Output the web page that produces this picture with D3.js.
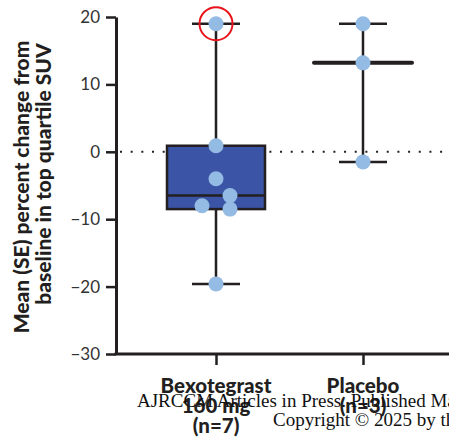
<!DOCTYPE html>
<html>
<head>
<meta charset="utf-8">
<script src="https://cdn.jsdelivr.net/npm/d3@7"></script>
<style>
  html, body { margin: 0; padding: 0; background: #fff; }
  svg { display: block; }
</style>
</head>
<body>
<svg id="chart" width="449" height="440"></svg>
<script>
// Groups and the individual percent changes in top-quartile SUV
const categories = ["Bexotegrast", "Placebo"];
const categoryLines = [["Bexotegrast", "160 mg", "(n=7)"], ["Placebo", "(n=3)"]];
const bexotegrastValues = [19, 0.9, -4, -6.5, -8, -8.5, -19.6];
const placeboValues = [19, 13.2, -1.5];
// Box summaries: [low whisker, q1, median, q3, high whisker]
const bexotegrastBox = [-19.6, -8.5, -6.5, 0.9, 19];
const placeboBox = [-1.5, 13.2, 13.2, 13.2, 19];
const yTicks = [-30, -20, -10, 0, 10, 20];
const yTitle = ["Mean (SE) percent change from", "baseline in top quartile SUV"];
const footer = ["AJRCCM Articles in Press. Published March 2025 as", "Copyright \u00A9 2025 by the American Thoracic Society"];

const ink = "#231f20";
const svg = d3.select("#chart");

const y = d3.scaleLinear().domain([-30, 20]).range([354, 17]);
const x = d3.scalePoint().domain(categories).range([216, 363]);
const axisX = 116;

// zero reference line (dotted)
svg.append("line")
  .attr("x1", axisX + 4).attr("x2", 449)
  .attr("y1", y(0)).attr("y2", y(0))
  .attr("stroke", ink).attr("stroke-width", 2)
  .attr("stroke-dasharray", "2,8.67");

// y axis
const yAxis = svg.append("g")
  .attr("transform", `translate(${axisX},0)`)
  .call(d3.axisLeft(y).tickValues(yTicks).tickSize(10).tickSizeOuter(0).tickPadding(6));
yAxis.select(".domain").attr("stroke", ink).attr("stroke-width", 3);
yAxis.selectAll(".tick line").attr("stroke", ink).attr("stroke-width", 2.5);
yAxis.selectAll(".tick text")
  .attr("fill", "#333").style("font-family", "Lato, 'Open Sans', sans-serif")
  .style("font-size", "17px");

// x axis baseline spanning the plot
svg.append("line")
  .attr("x1", axisX - 1.5).attr("x2", 449)
  .attr("y1", y(-30)).attr("y2", y(-30))
  .attr("stroke", ink).attr("stroke-width", 3);

const xAxis = svg.append("g")
  .attr("transform", `translate(0,${y(-30)})`)
  .call(d3.axisBottom(x).tickSize(11).tickSizeOuter(0).tickFormat(""));
xAxis.select(".domain").remove();
xAxis.selectAll(".tick line").attr("stroke", ink).attr("stroke-width", 2.5);

// category labels
categories.forEach((c, i) => {
  const t = svg.append("text")
    .attr("x", x(c)).attr("y", 393)
    .attr("text-anchor", "middle")
    .attr("fill", ink)
    .style("font-family", "Lato, sans-serif")
    .style("font-weight", "900")
    .style("font-size", "20.5px");
  categoryLines[i].forEach((line, j) => {
    t.append("tspan").attr("x", x(c)).attr("y", 393 + j * 20).text(line);
  });
});

// y axis title, one centred line per row
const titleCentres = [187, 174];
yTitle.forEach((line, j) => {
  svg.append("text")
    .attr("transform", `translate(${29 + j * 22},${titleCentres[j]}) rotate(-90)`)
    .attr("text-anchor", "middle")
    .attr("fill", ink)
    .style("font-family", "Lato, sans-serif")
    .style("font-weight", "900")
    .style("font-size", "21px")
    .text(line);
});

// whiskers and boxes
const capHalf = 24, boxHalf = 49;
function drawGroup(cat, box, values, offsets, hasBox) {
  const cx = x(cat);
  const [lo, q1, med, q3, hi] = box;
  const g = svg.append("g");
  g.append("line").attr("x1", cx).attr("x2", cx).attr("y1", y(hi)).attr("y2", y(lo))
    .attr("stroke", ink).attr("stroke-width", 2.5);
  [lo, hi].forEach(v => {
    g.append("line").attr("x1", cx - capHalf).attr("x2", cx + capHalf)
      .attr("y1", y(v)).attr("y2", y(v))
      .attr("stroke", ink).attr("stroke-width", 2.5);
  });
  if (hasBox) {
    g.append("rect")
      .attr("x", cx - boxHalf).attr("width", boxHalf * 2)
      .attr("y", y(q3)).attr("height", y(q1) - y(q3))
      .attr("fill", "#3b54a5").attr("stroke", ink).attr("stroke-width", 2.5);
    g.append("line").attr("x1", cx - boxHalf).attr("x2", cx + boxHalf)
      .attr("y1", y(med)).attr("y2", y(med))
      .attr("stroke", ink).attr("stroke-width", 2.5);
  } else {
    g.append("line").attr("x1", cx - boxHalf).attr("x2", cx + boxHalf)
      .attr("y1", y(med)).attr("y2", y(med))
      .attr("stroke", ink).attr("stroke-width", 4).attr("stroke-linecap", "round");
  }
  g.selectAll("circle.pt").data(values).join("circle")
    .attr("class", "pt")
    .attr("cx", (d, i) => cx + offsets[i])
    .attr("cy", d => y(d))
    .attr("r", 7.5)
    .attr("fill", "#93bbe4");
}
// horizontal spread so overlapping points stay visible
drawGroup(categories[0], bexotegrastBox, bexotegrastValues, [0, 0, 0, 14, -14, 14, 0], true);
drawGroup(categories[1], placeboBox, placeboValues, [0, 0, 0], false);

// highlight ring on the top Bexotegrast value
svg.append("circle")
  .attr("cx", x(categories[0])).attr("cy", y(bexotegrastValues[0]))
  .attr("r", 16.5)
  .attr("fill", "none").attr("stroke", "#e8141b").attr("stroke-width", 2);

// journal footer
svg.append("text").attr("x", 137).attr("y", 407)
  .style("font-family", "'Liberation Serif', serif").style("font-size", "19px")
  .attr("fill", "#111").text(footer[0]);
svg.append("text").attr("x", 273).attr("y", 426)
  .style("font-family", "'Liberation Serif', serif").style("font-size", "19px")
  .attr("fill", "#111").text(footer[1]);
</script>
</body>
</html>
